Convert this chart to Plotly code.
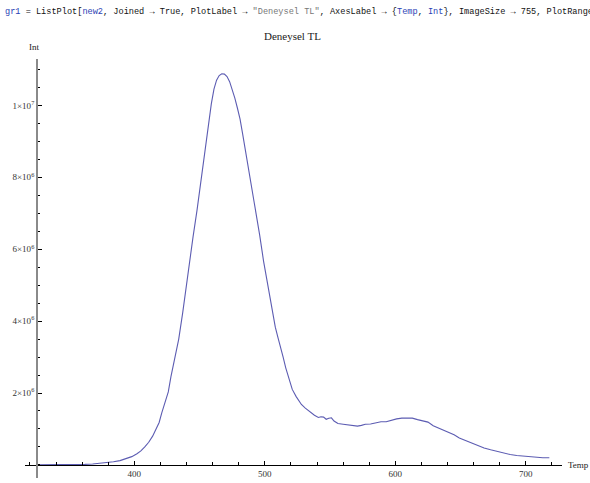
import plotly.graph_objects as go

# ---- data ----
temp = [325, 335, 345, 355, 362, 368, 374, 379, 384, 389, 394, 398, 402, 405, 408,
        411, 414, 417, 419, 421, 424, 426, 428, 431, 434, 437, 440, 442, 445, 448,
        451, 453, 455, 457, 459, 461, 463, 465, 467, 469, 471, 473, 475, 477, 479,
        481, 483, 485, 487, 489, 491, 493, 496, 499, 501, 503, 505, 508, 510, 512,
        514, 516, 518, 521, 524, 528, 531, 535, 538, 541, 543, 545, 547, 549, 551,
        553, 556, 560, 564, 568, 571, 574, 577, 581, 585, 589, 593, 597, 601, 605,
        609, 613, 617, 621, 625, 629, 633, 637, 641, 645, 649, 653, 658, 663, 668,
        673, 678, 683, 688, 693, 698, 703, 708, 713, 718]
intensity_millions = [0.0, 0.0, 0.005, 0.01, 0.015, 0.025, 0.045, 0.065, 0.09, 0.12,
                      0.17, 0.23, 0.31, 0.39, 0.50, 0.63, 0.80, 1.04, 1.18, 1.45,
                      1.78, 2.03, 2.45, 2.95, 3.50, 4.22, 5.02, 5.65, 6.35, 7.08,
                      7.90, 8.45, 9.02, 9.58, 10.05, 10.45, 10.70, 10.83, 10.88, 10.87,
                      10.80, 10.66, 10.45, 10.20, 9.92, 9.62, 9.20, 8.78, 8.40, 7.98,
                      7.55, 7.10, 6.40, 5.67, 5.25, 4.84, 4.40, 3.83, 3.55, 3.30,
                      3.00, 2.70, 2.45, 2.10, 1.90, 1.68, 1.58, 1.45, 1.38, 1.32,
                      1.34, 1.33, 1.27, 1.30, 1.31, 1.22, 1.15, 1.13, 1.11, 1.09,
                      1.08, 1.10, 1.13, 1.14, 1.18, 1.20, 1.20, 1.25, 1.28, 1.30,
                      1.31, 1.30, 1.26, 1.22, 1.19, 1.09, 1.03, 0.96, 0.90, 0.84,
                      0.75, 0.69, 0.61, 0.54, 0.47, 0.42, 0.37, 0.33, 0.29, 0.26,
                      0.24, 0.22, 0.21, 0.20, 0.20]
intensity = [v * 1e6 for v in intensity_millions]

x_tick_vals = [400, 500, 600, 700]
x_tick_text = ["400", "500", "600", "700"]
y_tick_vals = [2e6, 4e6, 6e6, 8e6, 1e7]
y_tick_text = ["2\u00d710<sup>6</sup>", "4\u00d710<sup>6</sup>", "6\u00d710<sup>6</sup>",
               "8\u00d710<sup>6</sup>", "1\u00d710<sup>7</sup>"]

title_text = "Deneysel TL"
x_label = "Temp"
y_label = "Int"

W, H = 590, 483
L, R, T, B = 25, 28, 59, 5
pw, ph = W - L - R, H - T - B

x_range = [316.2, 727.7]
y_range = [-0.364e6, 11.29e6]

serif = "Liberation Serif, Times New Roman, serif"

fig = go.Figure()
fig.add_trace(go.Scatter(x=temp, y=intensity, mode="lines",
                         line=dict(color="#5c5cb2", width=1.1), hoverinfo="skip",
                         showlegend=False))

# axis crossing positions (paper coords)
x_axis_pos = (0 - y_range[0]) / (y_range[1] - y_range[0])
y_axis_pos = (324.7 - x_range[0]) / (x_range[1] - x_range[0])

fig.update_layout(
    width=W, height=H,
    margin=dict(l=L, r=R, t=T, b=B, autoexpand=False),
    paper_bgcolor="white", plot_bgcolor="white",
    showlegend=False,
    xaxis=dict(range=x_range, anchor="free", position=x_axis_pos,
               showgrid=False, zeroline=False, showline=True,
               linecolor="black", linewidth=1,
               tickmode="array", tickvals=x_tick_vals, ticktext=x_tick_text,
               ticks="inside", ticklen=4, tickwidth=1, tickcolor="black",
               tickfont=dict(family=serif, size=9, color="#333"),
               minor=dict(tick0=0, dtick=20, ticks="inside", ticklen=2.5,
                          tickwidth=1, tickcolor="black", showgrid=False)),
    yaxis=dict(range=y_range, anchor="free", position=y_axis_pos,
               showgrid=False, zeroline=False, showline=True,
               linecolor="#8a8a8a", linewidth=1.6,
               tickmode="array", tickvals=y_tick_vals, ticktext=y_tick_text,
               ticks="inside", ticklen=4, tickwidth=1, tickcolor="black",
               tickfont=dict(family=serif, size=9, color="#333"),
               minor=dict(tick0=0, dtick=5e5, ticks="inside", ticklen=2.5,
                          tickwidth=1, tickcolor="black", showgrid=False)),
)

def px_to_paper(px, py):
    return (px - L) / pw, 1 - (py - T) / ph

annots = []
tx, ty = px_to_paper(292, 36)
annots.append(dict(x=tx, y=ty, xref="paper", yref="paper", text=title_text,
                   showarrow=False, xanchor="center", yanchor="middle",
                   font=dict(family=serif, size=11, color="#222")))
ix, iy = px_to_paper(34, 47)
annots.append(dict(x=ix, y=iy, xref="paper", yref="paper", text=y_label,
                   showarrow=False, xanchor="center", yanchor="middle",
                   font=dict(family=serif, size=9, color="#222")))
ex, ey = px_to_paper(566, 465)
annots.append(dict(x=ex, y=ey, xref="paper", yref="paper", text=x_label,
                   showarrow=False, xanchor="left", yanchor="middle",
                   font=dict(family=serif, size=9, color="#222")))

blue = "#2a3fb5"
gray = "#777"
code = ("<span style='color:%s'>gr1</span> = ListPlot[<span style='color:%s'>new2</span>, "
        "Joined \u2192 True, PlotLabel \u2192 <span style='color:%s'>\"Deneysel TL\"</span>, "
        "AxesLabel \u2192 {<span style='color:%s'>Temp</span>, <span style='color:%s'>Int</span>}, "
        "ImageSize \u2192 755, PlotRange" % (blue, blue, gray, blue, blue))
cx, cy = px_to_paper(3, 12)
annots.append(dict(x=cx, y=cy, xref="paper", yref="paper", text=code,
                   showarrow=False, xanchor="left", yanchor="middle",
                   font=dict(family="Liberation Mono, Courier New, monospace",
                             size=8.6, color="#111")))
fig.update_layout(annotations=annots)

fig.write_html("out.html",
               config={"displayModeBar": False, "staticPlot": True},
               post_script="document.body.style.margin='0';document.body.style.overflow='hidden';")
